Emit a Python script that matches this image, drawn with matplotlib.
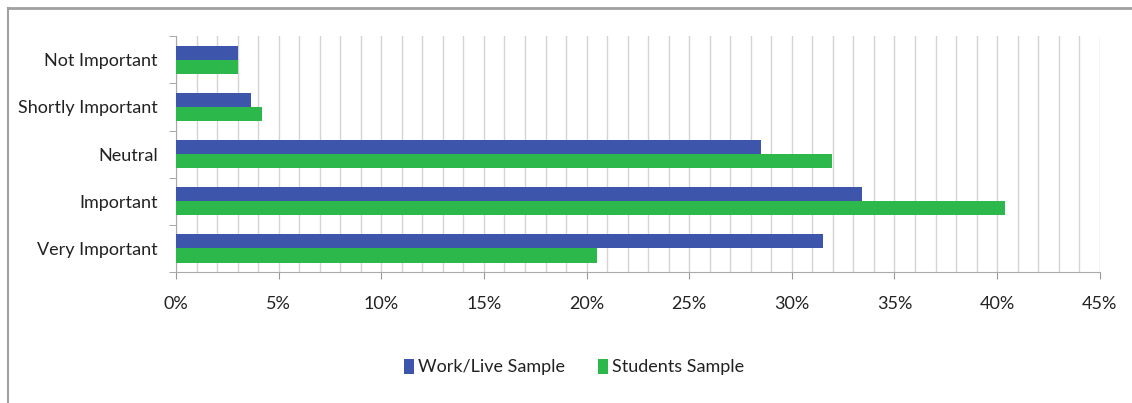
import matplotlib.pyplot as plt
import numpy as np
from matplotlib.ticker import MultipleLocator, FuncFormatter
from matplotlib.lines import Line2D

# Odgovori po kategorijama (postotak ispitanika)
kategorije = ['Not Important', 'Shortly Important', 'Neutral', 'Important', 'Very Important']
work_live = [3.0, 3.65, 28.5, 33.4, 31.5]
studenti = [3.0, 4.2, 31.95, 40.4, 20.5]

plt.rcParams['font.family'] = ['Lato', 'DejaVu Sans']

fig = plt.figure(figsize=(11.32, 4.03), dpi=100)
ax = fig.add_axes([0.1555, 0.325, 0.816, 0.585])

y = np.arange(len(kategorije))
h = 0.3
ax.barh(y - h / 2, work_live, height=h, color='#3d56ab', label='Work/Live Sample', zorder=3)
ax.barh(y + h / 2, studenti, height=h, color='#2cb84a', label='Students Sample', zorder=3)

ax.set_ylim(len(kategorije) - 0.5, -0.5)
ax.set_xlim(0, 45)
ax.set_yticks(y)
ax.set_yticklabels(kategorije, fontsize=13, color='#222222')
ax.set_yticks(np.arange(-0.5, len(kategorije)), minor=True)
ax.tick_params(axis='y', which='major', length=0, pad=13)
ax.tick_params(axis='y', which='minor', length=5, color='#999999')

ax.xaxis.set_major_locator(MultipleLocator(5))
ax.xaxis.set_minor_locator(MultipleLocator(1))
ax.xaxis.set_major_formatter(FuncFormatter(lambda v, p: '%d%%' % v))
ax.tick_params(axis='x', which='major', length=5, color='#999999', labelsize=13,
               labelcolor='#222222', pad=12)
ax.tick_params(axis='x', which='minor', length=0)
ax.grid(axis='x', which='both', color='#d4d4d4', linewidth=1, zorder=0)

for s in ['top', 'right']:
    ax.spines[s].set_visible(False)
for s in ['left', 'bottom']:
    ax.spines[s].set_color('#aaaaaa')

# okvir grafa (gornji i lijevi rub)
fig.add_artist(Line2D([0.007, 1.0], [0.981, 0.981], color='#a0a0a0', linewidth=2,
                      transform=fig.transFigure))
fig.add_artist(Line2D([0.007, 0.007], [0.0, 0.981], color='#a0a0a0', linewidth=1.5,
                      transform=fig.transFigure))

fig.legend(loc='center', bbox_to_anchor=(0.507, 0.089), ncol=2, frameon=False,
           fontsize=13, handlelength=0.55, handleheight=0.9, handletextpad=0.25,
           columnspacing=1.8, labelcolor='#222222')

fig.savefig('out.png', dpi=100)
